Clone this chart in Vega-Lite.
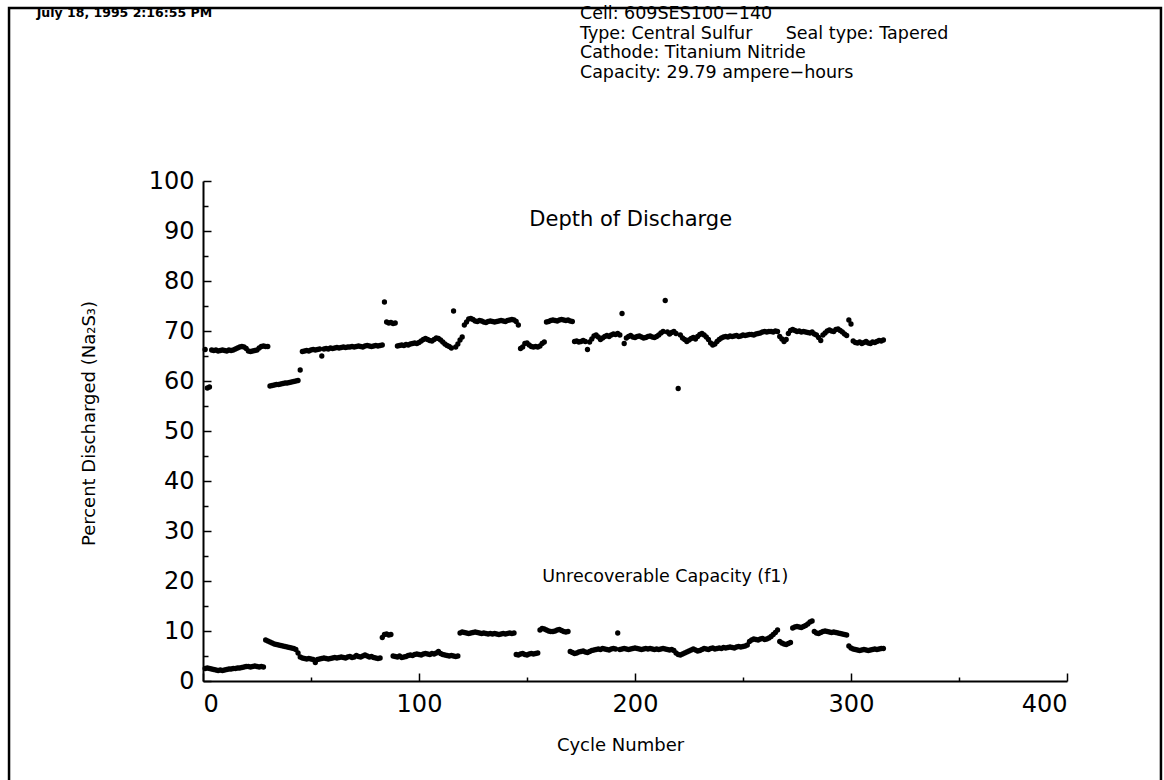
{
"$schema": "https://vega.github.io/schema/vega-lite/v6.json",
"width": 864, "height": 500,
"autosize": {"type": "none"},
"padding": {"left": 203, "top": 181, "right": 97, "bottom": 99},
"background": "white",
"config": {"view": {"stroke": null}, "font": "DejaVu Sans"},
"data": {"values": [
{"c":1,"d":66.3,"f":2.5},{"c":2,"d":58.6,"f":2.6},{"c":3,"d":58.8,"f":2.5},{"c":4,"d":66.2,"f":2.4},{"c":5,"d":66.1,"f":2.3},{"c":6,"d":66.2,"f":2.2},{"c":7,"d":66.0,"f":2.1},{"c":8,"d":66.1,"f":2.2},{"c":9,"d":66.2,"f":2.1},{"c":10,"d":66.1,"f":2.2},
{"c":11,"d":66.0,"f":2.3},{"c":12,"d":66.2,"f":2.4},{"c":13,"d":66.1,"f":2.4},{"c":14,"d":66.2,"f":2.5},{"c":15,"d":66.4,"f":2.5},{"c":16,"d":66.6,"f":2.6},{"c":17,"d":66.8,"f":2.6},{"c":18,"d":66.9,"f":2.7},{"c":19,"d":66.8,"f":2.8},{"c":20,"d":66.5,"f":2.9},
{"c":21,"d":66.0,"f":2.9},{"c":22,"d":65.9,"f":2.8},{"c":23,"d":66.0,"f":2.9},{"c":24,"d":66.1,"f":3.0},{"c":25,"d":66.2,"f":2.9},{"c":26,"d":66.6,"f":2.8},{"c":27,"d":66.9,"f":2.9},{"c":28,"d":67.0,"f":2.8},{"c":29,"d":66.9,"f":8.2},{"c":30,"d":66.9,"f":8.0},
{"c":31,"d":59.0,"f":7.8},{"c":32,"d":59.1,"f":7.6},{"c":33,"d":59.2,"f":7.4},{"c":34,"d":59.3,"f":7.3},{"c":35,"d":59.3,"f":7.2},{"c":36,"d":59.4,"f":7.1},{"c":37,"d":59.5,"f":7.0},{"c":38,"d":59.6,"f":6.9},{"c":39,"d":59.6,"f":6.8},{"c":40,"d":59.7,"f":6.7},
{"c":41,"d":59.8,"f":6.6},{"c":42,"d":59.9,"f":6.5},{"c":43,"d":60.0,"f":6.3},{"c":44,"d":60.1,"f":5.6},{"c":45,"d":62.2,"f":4.8},{"c":46,"d":65.9,"f":4.6},{"c":47,"d":66.0,"f":4.5},{"c":48,"d":66.1,"f":4.4},{"c":49,"d":66.0,"f":4.5},{"c":50,"d":66.2,"f":4.4},
{"c":51,"d":66.3,"f":4.3},{"c":52,"d":66.2,"f":3.7},{"c":53,"d":66.3,"f":4.3},{"c":54,"d":66.4,"f":4.4},{"c":55,"d":65.0,"f":4.5},{"c":56,"d":66.4,"f":4.6},{"c":57,"d":66.5,"f":4.5},{"c":58,"d":66.4,"f":4.4},{"c":59,"d":66.6,"f":4.5},{"c":60,"d":66.5,"f":4.6},
{"c":61,"d":66.6,"f":4.7},{"c":62,"d":66.7,"f":4.6},{"c":63,"d":66.6,"f":4.7},{"c":64,"d":66.7,"f":4.8},{"c":65,"d":66.8,"f":4.7},{"c":66,"d":66.7,"f":4.6},{"c":67,"d":66.8,"f":4.8},{"c":68,"d":66.8,"f":4.9},{"c":69,"d":66.9,"f":4.7},{"c":70,"d":66.8,"f":4.8},
{"c":71,"d":66.9,"f":5.1},{"c":72,"d":67.0,"f":4.9},{"c":73,"d":66.9,"f":4.8},{"c":74,"d":66.8,"f":5.0},{"c":75,"d":67.0,"f":5.2},{"c":76,"d":67.1,"f":5.0},{"c":77,"d":67.0,"f":4.8},{"c":78,"d":66.9,"f":4.9},{"c":79,"d":67.0,"f":4.7},{"c":80,"d":67.1,"f":4.6},
{"c":81,"d":67.0,"f":4.5},{"c":82,"d":67.1,"f":4.6},{"c":83,"d":67.2,"f":8.7},{"c":84,"d":75.8,"f":9.3},{"c":85,"d":71.8,"f":9.4},{"c":86,"d":71.6,"f":9.2},{"c":87,"d":71.7,"f":9.3},{"c":88,"d":71.5,"f":5.0},{"c":89,"d":71.6,"f":4.9},{"c":90,"d":67.0,"f":4.8},
{"c":91,"d":67.1,"f":5.0},{"c":92,"d":67.2,"f":4.7},{"c":93,"d":67.1,"f":4.8},{"c":94,"d":67.3,"f":4.9},{"c":95,"d":67.2,"f":5.1},{"c":96,"d":67.4,"f":5.2},{"c":97,"d":67.5,"f":5.1},{"c":98,"d":67.6,"f":5.3},{"c":99,"d":67.5,"f":5.4},{"c":100,"d":67.7,"f":5.3},
{"c":101,"d":68.0,"f":5.2},{"c":102,"d":68.3,"f":5.4},{"c":103,"d":68.5,"f":5.5},{"c":104,"d":68.3,"f":5.4},{"c":105,"d":68.1,"f":5.3},{"c":106,"d":68.0,"f":5.5},{"c":107,"d":68.3,"f":5.4},{"c":108,"d":68.6,"f":5.6},{"c":109,"d":68.5,"f":5.9},{"c":110,"d":68.2,"f":5.5},
{"c":111,"d":67.8,"f":5.3},{"c":112,"d":67.4,"f":5.2},{"c":113,"d":67.1,"f":5.1},{"c":114,"d":66.9,"f":5.0},{"c":115,"d":66.6,"f":5.1},{"c":116,"d":74.0,"f":5.0},{"c":117,"d":66.8,"f":4.9},{"c":118,"d":67.4,"f":5.0},{"c":119,"d":68.2,"f":9.6},{"c":120,"d":68.8,"f":9.8},
{"c":121,"d":71.2,"f":9.7},{"c":122,"d":71.8,"f":9.6},{"c":123,"d":72.4,"f":9.5},{"c":124,"d":72.5,"f":9.6},{"c":125,"d":72.3,"f":9.7},{"c":126,"d":72.0,"f":9.8},{"c":127,"d":71.9,"f":9.7},{"c":128,"d":72.1,"f":9.6},{"c":129,"d":72.0,"f":9.5},{"c":130,"d":71.8,"f":9.6},
{"c":131,"d":71.7,"f":9.5},{"c":132,"d":71.9,"f":9.4},{"c":133,"d":72.0,"f":9.5},{"c":134,"d":71.9,"f":9.4},{"c":135,"d":71.8,"f":9.5},{"c":136,"d":71.9,"f":9.4},{"c":137,"d":72.0,"f":9.3},{"c":138,"d":72.1,"f":9.4},{"c":139,"d":72.0,"f":9.5},{"c":140,"d":71.9,"f":9.4},
{"c":141,"d":72.1,"f":9.5},{"c":142,"d":72.2,"f":9.6},{"c":143,"d":72.3,"f":9.5},{"c":144,"d":72.2,"f":9.6},{"c":145,"d":71.9,"f":5.3},{"c":146,"d":71.2,"f":5.2},{"c":147,"d":66.5,"f":5.4},{"c":148,"d":66.8,"f":5.5},{"c":149,"d":67.5,"f":5.3},{"c":150,"d":67.6,"f":5.2},
{"c":151,"d":67.2,"f":5.4},{"c":152,"d":66.9,"f":5.5},{"c":153,"d":66.8,"f":5.4},{"c":154,"d":66.9,"f":5.5},{"c":155,"d":66.8,"f":5.6},{"c":156,"d":67.0,"f":10.2},{"c":157,"d":67.5,"f":10.5},{"c":158,"d":67.8,"f":10.4},{"c":159,"d":71.8,"f":10.2},{"c":160,"d":71.9,"f":10.0},
{"c":161,"d":72.1,"f":9.9},{"c":162,"d":72.2,"f":9.9},{"c":163,"d":72.1,"f":10.0},{"c":164,"d":72.0,"f":10.2},{"c":165,"d":72.2,"f":10.3},{"c":166,"d":72.3,"f":10.1},{"c":167,"d":72.2,"f":9.9},{"c":168,"d":72.1,"f":9.8},{"c":169,"d":72.2,"f":9.9},{"c":170,"d":72.0,"f":5.9},
{"c":171,"d":71.9,"f":5.7},{"c":172,"d":67.9,"f":5.5},{"c":173,"d":68.0,"f":5.6},{"c":174,"d":67.8,"f":5.8},{"c":175,"d":67.9,"f":5.9},{"c":176,"d":68.1,"f":6.0},{"c":177,"d":67.9,"f":5.8},{"c":178,"d":66.3,"f":5.7},{"c":179,"d":67.8,"f":5.9},{"c":180,"d":68.4,"f":6.1},
{"c":181,"d":69.0,"f":6.2},{"c":182,"d":69.2,"f":6.3},{"c":183,"d":68.8,"f":6.4},{"c":184,"d":68.3,"f":6.3},{"c":185,"d":68.6,"f":6.5},{"c":186,"d":68.9,"f":6.4},{"c":187,"d":69.1,"f":6.3},{"c":188,"d":68.9,"f":6.2},{"c":189,"d":69.2,"f":6.4},{"c":190,"d":69.4,"f":6.5},
{"c":191,"d":69.3,"f":6.4},{"c":192,"d":69.5,"f":9.6},{"c":193,"d":69.2,"f":6.3},{"c":194,"d":73.5,"f":6.4},{"c":195,"d":67.5,"f":6.5},{"c":196,"d":68.6,"f":6.4},{"c":197,"d":68.9,"f":6.3},{"c":198,"d":69.1,"f":6.4},{"c":199,"d":68.8,"f":6.5},{"c":200,"d":68.7,"f":6.6},
{"c":201,"d":68.9,"f":6.5},{"c":202,"d":69.0,"f":6.4},{"c":203,"d":68.8,"f":6.3},{"c":204,"d":68.6,"f":6.4},{"c":205,"d":68.7,"f":6.5},{"c":206,"d":68.9,"f":6.4},{"c":207,"d":69.0,"f":6.5},{"c":208,"d":68.8,"f":6.4},{"c":209,"d":68.7,"f":6.3},{"c":210,"d":68.9,"f":6.4},
{"c":211,"d":69.2,"f":6.3},{"c":212,"d":69.6,"f":6.4},{"c":213,"d":69.9,"f":6.5},{"c":214,"d":76.1,"f":6.4},{"c":215,"d":69.8,"f":6.3},{"c":216,"d":69.4,"f":6.2},{"c":217,"d":69.7,"f":6.3},{"c":218,"d":69.9,"f":6.1},{"c":219,"d":69.5,"f":5.6},{"c":220,"d":58.5,"f":5.3},
{"c":221,"d":69.2,"f":5.2},{"c":222,"d":68.6,"f":5.4},{"c":223,"d":68.3,"f":5.6},{"c":224,"d":67.9,"f":5.8},{"c":225,"d":68.2,"f":6.0},{"c":226,"d":68.5,"f":6.2},{"c":227,"d":68.7,"f":6.4},{"c":228,"d":68.4,"f":6.2},{"c":229,"d":68.9,"f":6.0},{"c":230,"d":69.3,"f":6.1},
{"c":231,"d":69.5,"f":6.3},{"c":232,"d":69.2,"f":6.5},{"c":233,"d":68.8,"f":6.4},{"c":234,"d":68.3,"f":6.3},{"c":235,"d":67.6,"f":6.5},{"c":236,"d":67.2,"f":6.6},{"c":237,"d":67.4,"f":6.4},{"c":238,"d":67.9,"f":6.5},{"c":239,"d":68.3,"f":6.6},{"c":240,"d":68.6,"f":6.5},
{"c":241,"d":68.8,"f":6.7},{"c":242,"d":68.9,"f":6.6},{"c":243,"d":68.8,"f":6.7},{"c":244,"d":69.0,"f":6.8},{"c":245,"d":68.9,"f":6.7},{"c":246,"d":69.0,"f":6.6},{"c":247,"d":69.1,"f":6.8},{"c":248,"d":68.9,"f":6.9},{"c":249,"d":69.0,"f":6.8},{"c":250,"d":69.2,"f":6.9},
{"c":251,"d":69.1,"f":7.0},{"c":252,"d":69.2,"f":7.2},{"c":253,"d":69.3,"f":7.9},{"c":254,"d":69.3,"f":8.2},{"c":255,"d":69.2,"f":8.4},{"c":256,"d":69.4,"f":8.3},{"c":257,"d":69.5,"f":8.2},{"c":258,"d":69.6,"f":8.4},{"c":259,"d":69.8,"f":8.5},{"c":260,"d":69.9,"f":8.3},
{"c":261,"d":69.8,"f":8.4},{"c":262,"d":69.9,"f":8.6},{"c":263,"d":69.9,"f":8.9},{"c":264,"d":69.8,"f":9.3},{"c":265,"d":70.0,"f":9.7},{"c":266,"d":69.9,"f":10.2},{"c":267,"d":68.9,"f":7.9},{"c":268,"d":68.4,"f":7.6},{"c":269,"d":67.9,"f":7.4},{"c":270,"d":68.3,"f":7.3},
{"c":271,"d":69.5,"f":7.5},{"c":272,"d":70.1,"f":7.7},{"c":273,"d":70.3,"f":10.6},{"c":274,"d":70.1,"f":10.8},{"c":275,"d":69.9,"f":10.9},{"c":276,"d":70.0,"f":10.8},{"c":277,"d":69.8,"f":10.7},{"c":278,"d":69.9,"f":10.9},{"c":279,"d":69.8,"f":11.1},{"c":280,"d":69.7,"f":11.4},
{"c":281,"d":69.6,"f":11.8},{"c":282,"d":69.8,"f":12.0},{"c":283,"d":69.4,"f":9.9},{"c":284,"d":69.2,"f":9.6},{"c":285,"d":68.7,"f":9.5},{"c":286,"d":68.1,"f":9.7},{"c":287,"d":69.2,"f":9.9},{"c":288,"d":69.6,"f":10.0},{"c":289,"d":70.0,"f":9.9},{"c":290,"d":70.2,"f":9.8},
{"c":291,"d":70.0,"f":9.7},{"c":292,"d":69.9,"f":9.8},{"c":293,"d":70.3,"f":9.7},{"c":294,"d":70.4,"f":9.6},{"c":295,"d":70.1,"f":9.5},{"c":296,"d":69.8,"f":9.4},{"c":297,"d":69.4,"f":9.3},{"c":298,"d":69.1,"f":9.2},{"c":299,"d":72.2,"f":7.0},{"c":300,"d":71.4,"f":6.6},
{"c":301,"d":68.0,"f":6.4},{"c":302,"d":67.7,"f":6.3},{"c":303,"d":67.6,"f":6.2},{"c":304,"d":67.8,"f":6.1},{"c":305,"d":67.5,"f":6.2},{"c":306,"d":67.7,"f":6.3},{"c":307,"d":67.9,"f":6.2},{"c":308,"d":67.6,"f":6.1},{"c":309,"d":67.5,"f":6.2},{"c":310,"d":67.8,"f":6.3},
{"c":311,"d":67.7,"f":6.4},{"c":312,"d":67.9,"f":6.3},{"c":313,"d":68.1,"f":6.4},{"c":314,"d":68.0,"f":6.5},{"c":315,"d":68.2,"f":6.5}
]},
"layer": [
{"data": {"values": [{}]},
 "mark": {"type": "rect", "filled": false, "stroke": "black", "strokeWidth": 2.5},
 "encoding": {"x": {"datum": -89.8, "type": "quantitative", "axis": null}, "x2": {"datum": 443.5}, "y": {"datum": 134.6, "type": "quantitative", "axis": null}, "y2": {"datum": -24}}},
{"mark": {"type": "circle", "size": 28, "color": "black", "opacity": 1},
 "encoding": {
  "x": {"field": "c", "type": "quantitative", "scale": {"domain": [0, 400], "nice": false, "zero": false},
   "axis": {"orient": "bottom", "values": [0, 100, 200, 300, 400], "tickSize": -8, "tickWidth": 1.5, "tickColor": "black", "domainColor": "black", "domainWidth": 2, "grid": false, "labelFontSize": 24, "labelColor": "black", "labelPadding": 19, "labelFont": "DejaVu Sans", "title": "Cycle Number", "titleFontSize": 18, "titleFontWeight": "normal", "titleColor": "black", "titleFont": "DejaVu Sans", "titlePadding": 20, "titleX": 417}},
  "y": {"field": "d", "type": "quantitative", "scale": {"domain": [0, 100], "nice": false, "zero": false},
   "axis": {"orient": "left", "values": [0, 10, 20, 30, 40, 50, 60, 70, 80, 90, 100], "tickSize": -8, "tickWidth": 1.5, "tickColor": "black", "domainColor": "black", "domainWidth": 2, "grid": false, "labelFontSize": 24, "labelColor": "black", "labelPadding": 17, "labelFont": "DejaVu Sans", "title": "Percent Discharged (Na₂S₃)", "titleFontSize": 18, "titleFontWeight": "normal", "titleColor": "black", "titleFont": "DejaVu Sans", "titlePadding": 50, "titleY": 242}}}},
{"mark": {"type": "circle", "size": 28, "color": "black", "opacity": 1},
 "encoding": {
  "x": {"field": "c", "type": "quantitative",
   "axis": {"orient": "bottom", "values": [50, 150, 250, 350], "tickSize": -4, "tickWidth": 1.5, "tickColor": "black", "domain": false, "labels": false, "grid": false, "title": null}},
  "y": {"field": "f", "type": "quantitative",
   "axis": {"orient": "left", "values": [5, 15, 25, 35, 45, 55, 65, 75, 85, 95], "tickSize": -5, "tickWidth": 1.5, "tickColor": "black", "domain": false, "labels": false, "grid": false, "title": null}}}},
{"data": {"values": [{}]},
 "mark": {"type": "text", "text": "Depth of Discharge", "fontSize": 21, "font": "DejaVu Sans", "color": "black", "align": "center", "baseline": "middle"},
 "encoding": {"x": {"datum": 198, "type": "quantitative", "axis": null}, "y": {"datum": 92.2, "type": "quantitative", "axis": null}}},
{"data": {"values": [{}]},
 "mark": {"type": "text", "text": "Unrecoverable Capacity (f1)", "fontSize": 17.5, "font": "DejaVu Sans", "color": "black", "align": "center", "baseline": "middle"},
 "encoding": {"x": {"datum": 214, "type": "quantitative", "axis": null}, "y": {"datum": 20.8, "type": "quantitative", "axis": null}}},
{"data": {"values": [{}]},
 "mark": {"type": "text", "text": "July 18, 1995  2:16:55 PM", "fontSize": 12.5, "fontWeight": "bold", "font": "DejaVu Sans", "color": "black", "align": "left", "baseline": "middle"},
 "encoding": {"x": {"datum": -77, "type": "quantitative", "axis": null}, "y": {"datum": 133.6, "type": "quantitative", "axis": null}}},
{"data": {"values": [{}]},
 "mark": {"type": "text", "text": ["Cell: 609SES100−140", "Type: Central Sulfur\u00a0\u00a0\u00a0\u00a0\u00a0\u00a0Seal type: Tapered", "Cathode: Titanium Nitride", "Capacity: 29.79 ampere−hours"], "fontSize": 17.5, "font": "DejaVu Sans", "color": "black", "align": "left", "baseline": "alphabetic", "lineHeight": 19.5},
 "encoding": {"x": {"datum": 174.5, "type": "quantitative", "axis": null}, "y": {"datum": 132.4, "type": "quantitative", "axis": null}}}
],
"resolve": {"axis": {"x": "independent", "y": "independent"}}
}
